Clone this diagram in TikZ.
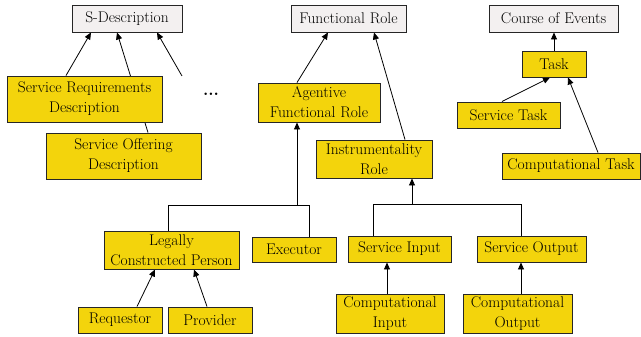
\documentclass[tikz,border=0pt]{standalone}
\usetikzlibrary{arrows.meta,backgrounds}
\definecolor{ybox}{HTML}{F3D40C}
\definecolor{gbox}{HTML}{F3F0F0}
\tikzset{
  box/.style={rectangle, draw=black!85, line width=0.9pt, inner sep=0pt, align=center,
    font=\fontsize{15.5}{20}\selectfont, text=black},
  ybx/.style={box, fill=ybox},
  gbx/.style={box, fill=gbox},
  arr/.style={line width=0.8pt, -{Triangle[length=7pt,width=6pt]}},
  ln/.style={line width=0.8pt},
}
\begin{document}
\begin{tikzpicture}[x=1pt,y=-1pt]
\useasboundingbox (0,0) rectangle (641,337);
% top classes
\node[gbx, minimum width=110pt, minimum height=27pt] (sdesc) at (127,18.5) {S-Description};
\node[gbx, minimum width=115pt, minimum height=27pt] (fr) at (348.5,18.5) {Functional Role};
\node[gbx, minimum width=129pt, minimum height=27pt] (coe) at (553.5,18.5) {Course of Events};
% yellow classes
\node[ybx, minimum width=155pt, minimum height=46pt] (sod) at (123.5,156) {Service Offering\\Description};
\node[ybx, minimum width=155pt, minimum height=46pt] (srd) at (84.5,99) {Service Requirements\\Description};
\node[ybx, minimum width=122pt, minimum height=39pt] (afr) at (319,102.5) {Agentive\\Functional Role};
\node[ybx, minimum width=116pt, minimum height=38pt] (ir) at (374,159) {Instrumentality\\Role};
\node[ybx, minimum width=135pt, minimum height=38pt] (lcp) at (171.5,250) {Legally\\Constructed Person};
\node[ybx, minimum width=84pt, minimum height=25pt] (exec) at (294,249.5) {Executor};
\node[ybx, minimum width=84pt, minimum height=26pt] (req) at (120,320) {Requestor};
\node[ybx, minimum width=84pt, minimum height=26pt] (prov) at (210,320) {Provider};
\node[ybx, minimum width=103pt, minimum height=26pt] (si) at (399.5,249) {Service Input};
\node[ybx, minimum width=109pt, minimum height=26pt] (so) at (531.5,249) {Service Output};
\node[ybx, minimum width=108pt, minimum height=39pt] (ci) at (390,313.5) {Computational\\Input};
\node[ybx, minimum width=109pt, minimum height=39pt] (co) at (517.5,313.5) {Computational\\Output};
\node[ybx, minimum width=64pt, minimum height=26pt] (task) at (554,64) {Task};
\node[ybx, minimum width=103pt, minimum height=26pt] (st) at (508.5,115) {Service Task};
\node[ybx, minimum width=138pt, minimum height=26pt] (ct) at (571,166) {Computational Task};
\node[font=\fontsize{17}{20}\selectfont\bfseries] (dots) at (211,94) {...};
\coordinate (free) at (182,76);
\coordinate (busA) at (297,205);
\coordinate (busB) at (412,204);
\begin{pgfonlayer}{background}
\draw[arr] ([xshift=-18.5pt]srd.north) -- ([xshift=-36pt]sdesc.south);
\draw[arr] ([xshift=24.5pt]sod.north) -- ([xshift=-10pt]sdesc.south);
\draw[arr] (free) -- ([xshift=30pt]sdesc.south);
\draw[arr] ([xshift=-22pt]afr.north) -- ([xshift=-20.5pt]fr.south);
\draw[arr] ([xshift=31pt]ir.north) -- ([xshift=25.5pt]fr.south);
\draw[ln] ([xshift=-3.5pt]lcp.north) |- (busA);
\draw[ln] ([xshift=15pt]exec.north) |- (busA);
\draw[arr] (busA) -- (busA |- afr.south);
\draw[ln] ([xshift=-26.5pt]si.north) |- (busB);
\draw[ln] ([xshift=-10.5pt]so.north) |- (busB);
\draw[arr] (busB) -- (busB |- ir.south);
\draw[arr] ([xshift=-3pt]ci.north) -- ([xshift=-3pt]ci.north |- si.south);
\draw[arr] ([xshift=3.5pt]co.north) -- ([xshift=3.5pt]co.north |- so.south);
\draw[arr] ([xshift=17pt]req.north) -- ([xshift=-16.5pt]lcp.south);
\draw[arr] ([xshift=-3pt]prov.north) -- ([xshift=22.5pt]lcp.south);
\draw[arr] (task.north) -- (task.north |- coe.south);
\draw[arr] ([xshift=-6.5pt]st.north) -- ([xshift=-4pt]task.south);
\draw[arr] ([xshift=27pt]ct.north) -- ([xshift=14pt]task.south);
\end{pgfonlayer}
\end{tikzpicture}
\end{document}
